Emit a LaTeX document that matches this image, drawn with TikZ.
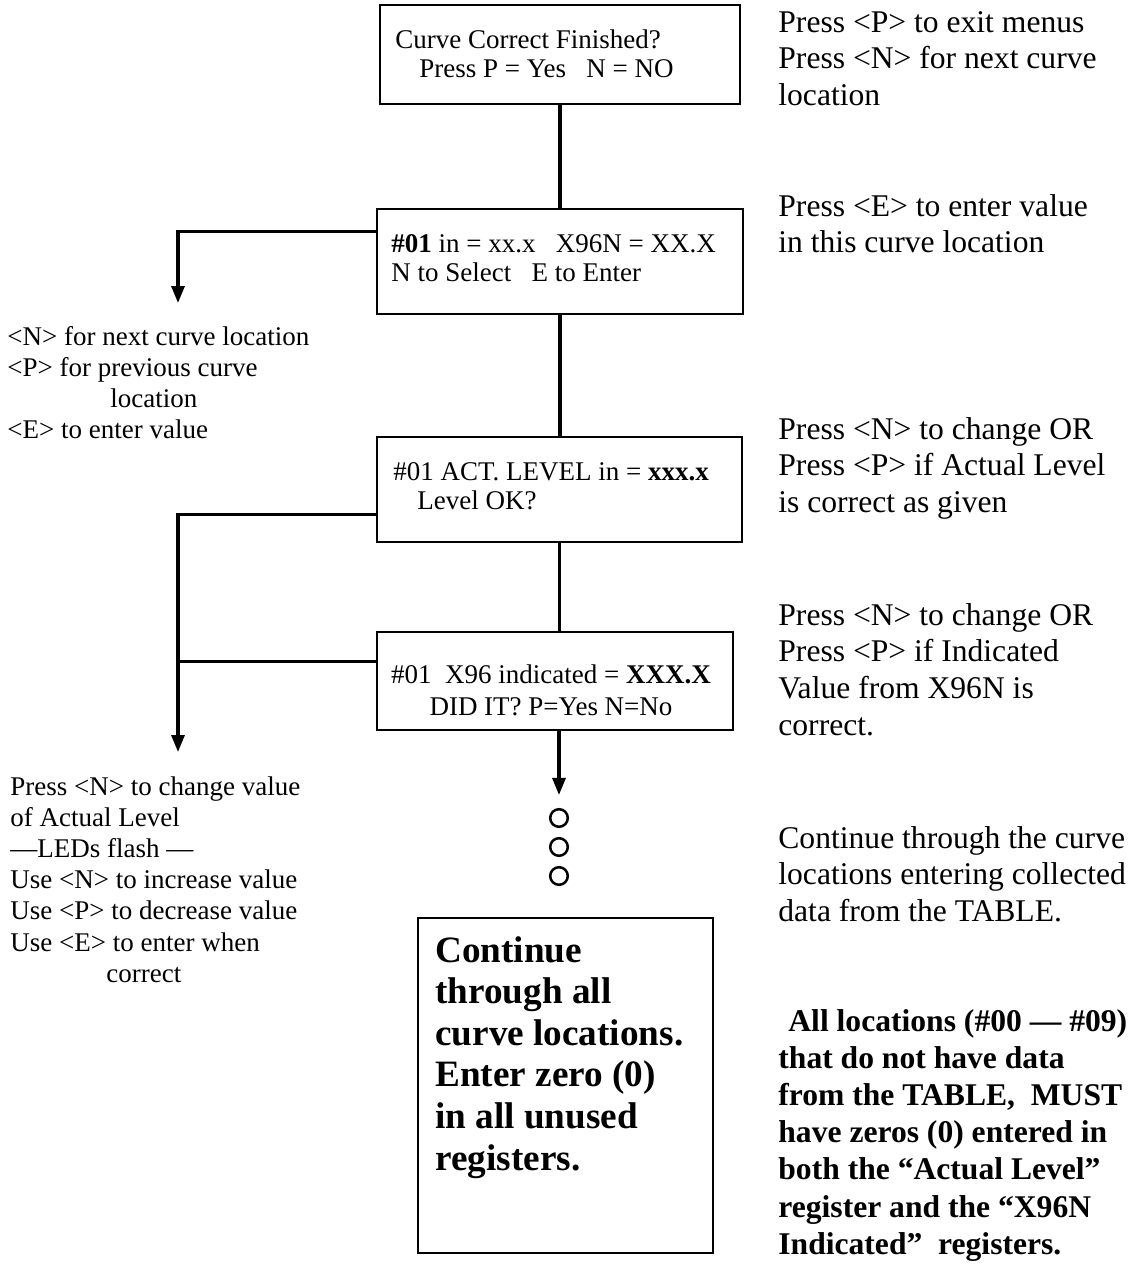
\documentclass[tikz,border=0pt]{standalone}
\usepackage{fontspec}
\setmainfont{Liberation Serif}
\usetikzlibrary{arrows.meta,calc}

\begin{document}
\begin{tikzpicture}[
  x=0.5pt, y=-0.5pt,
  screen/.style={draw,line width=0.75pt,inner sep=0pt},
  scrtxt/.style={inner sep=0pt,anchor=base west,text width=175pt,align=flush left,
                 font=\fontsize{13.5pt}{14.8pt}\selectfont},
  keys/.style={inner sep=0pt,anchor=base west,text width=165pt,align=flush left,
               font=\fontsize{13.5pt}{15.6pt}\selectfont},
  note/.style={inner sep=0pt,anchor=base west,text width=184pt,align=flush left,
               font=\fontsize{15.8pt}{18.4pt}\selectfont},
  wire/.style={line width=1.6pt},
  dot/.style={circle,draw,line width=1.25pt,minimum size=8.8pt,inner sep=0pt},
  >={Triangle[length=8.5pt,width=6.5pt]},
]
  \useasboundingbox (0,0) rectangle (1137,1264);

  % display screens down the middle
  \node[screen,minimum width=180pt,minimum height=49.5pt] (q1) at (560,54.5) {};
  \node[screen,minimum width=183pt,minimum height=52.5pt] (q2) at (560,261.5) {};
  \node[screen,minimum width=182.5pt,minimum height=52.5pt] (q3) at (559.5,489.5) {};
  \node[screen,minimum width=178pt,minimum height=49pt] (q4) at (555,681) {};
  \node[screen,line width=1.35pt,minimum width=147.5pt,minimum height=167.5pt] (done) at (565.5,1085.5) {};

  \node[scrtxt] (q1txt) at (395,48) {Curve Correct Finished?\\
    \hspace*{12pt}Press P = Yes~~~N = NO};
  \node[scrtxt] (q2txt) at (391,252) {\textbf{\#01} in = xx.x~~~X96N = XX.X\\
    N to Select~~~E to Enter};
  \node[scrtxt] (q3txt) at (393,480) {\#01 ACT. LEVEL in = \textbf{xxx.x}\\
    \hspace*{12pt}Level OK?};
  \node[scrtxt,anchor=base,align=flush center,font=\fontsize{13.5pt}{16pt}\selectfont]
    (q4txt) at (551,683) {\#01~~X96 indicated = \textbf{XXX.X}\\DID IT? P=Yes N=No};
  \node[inner sep=0pt,anchor=base west,text width=140pt,align=flush left,
        font=\fontsize{18.6pt}{20.8pt}\selectfont\bfseries]
    (donetxt) at (435,962) {Continue\\through all\\curve locations.\\Enter zero (0)\\in all unused\\registers.};

  % key help on the left
  \node[keys] (nav) at (7,345) {<N> for next curve location\\
    <P> for previous curve\\
    \hspace*{51.5pt}location\\
    <E> to enter value};
  \node[keys] (edit) at (10,795) {Press <N> to change value\\
    of Actual Level\\
    —LEDs flash —\\
    Use <N> to increase value\\
    Use <P> to decrease value\\
    Use <E> to enter when\\
    \hspace*{48pt}correct};

  % notes on the right
  \node[note] (exitnote) at (778,32) {Press <P> to exit menus\\Press <N> for next curve\\location};
  \node[note] (enternote) at (778,216) {Press <E> to enter value\\in this curve location};
  \node[note] (levelnote) at (778,439) {Press <N> to change OR\\Press <P> if Actual Level\\is correct as given};
  \node[note] (indnote) at (778,625) {Press <N> to change OR\\Press <P> if Indicated\\Value from X96N is\\correct.};
  \node[note] (contnote) at (778,848) {Continue through the curve\\locations entering collected\\data from the TABLE.};
  \node[note,font=\fontsize{15.8pt}{18.6pt}\selectfont\bfseries] (zeronote) at (778,1031)
    {\hspace*{5pt}All locations (\#00 — \#09)\\that do not have data\\from the TABLE,~~MUST\\
     have zeros (0) entered in\\both the “Actual Level”\\register and the “X96N\\Indicated”~~registers.};

  % more locations follow
  \foreach \i/\y in {1/818,2/847,3/876}
    \node[dot] (dot\i) at (559,\y) {};

  \coordinate (navtip) at (178,303);
  \coordinate (edittip) at (178,752);

  \draw[wire] (q1) -- (q2);
  \draw[wire] (q2.south) -- (q2.south |- q3.north);
  \draw[wire] (q3.south) -- (q3.south |- q4.north);
  \draw[wire,->,shorten >=6.5pt] (dot1 |- q4.south) -- (dot1.north);

  \draw[wire,->] ($(q2.north west)+(0,23)$) -| (navtip);
  \draw[wire,->] ($(q3.north west)+(0,78)$) -| (edittip);
  \draw[wire] ($(q4.north west)+(0,30)$) coordinate (j4) -- (j4 -| edittip);
\end{tikzpicture}
\end{document}
